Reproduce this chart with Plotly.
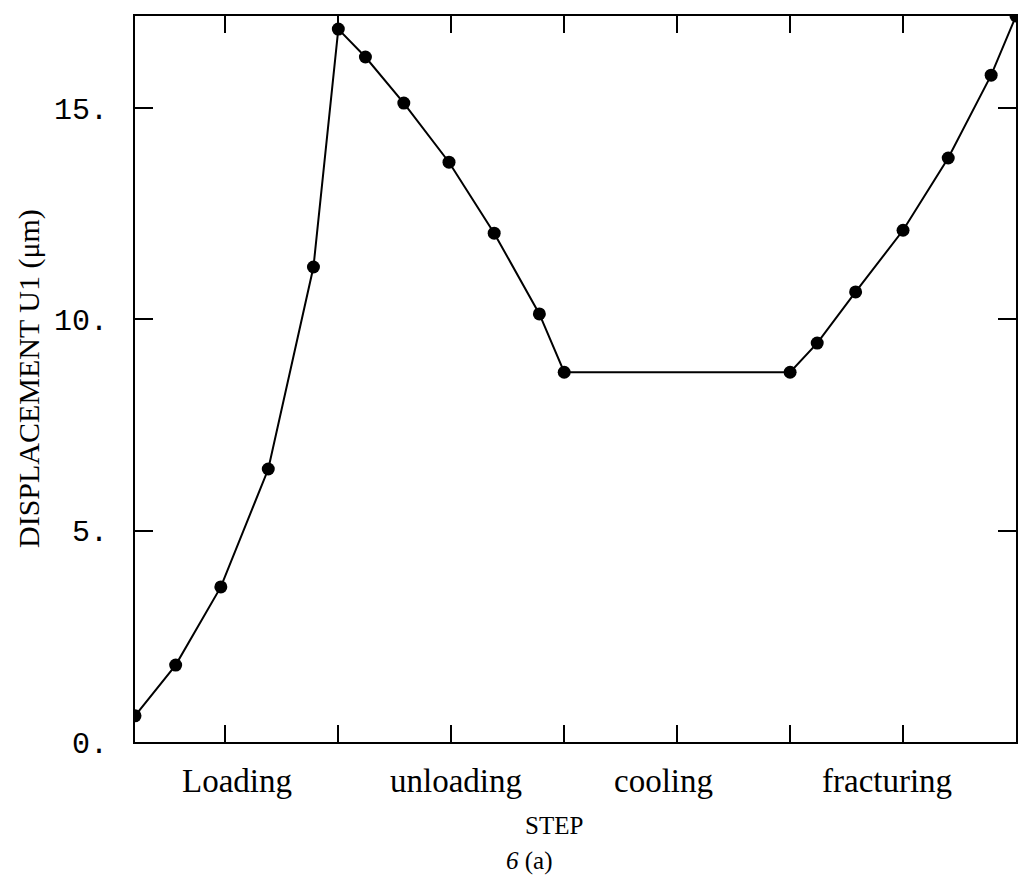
import plotly.graph_objects as go

# ---- data ----
step_time = [0.10, 0.28, 0.48, 0.69, 0.89, 1.00,
             1.12, 1.29, 1.49, 1.69, 1.89, 2.00,
             3.00, 3.12, 3.29, 3.50, 3.70, 3.89, 4.00]
displacement_u1 = [0.62, 1.82, 3.67, 6.46, 11.24, 16.87,
                   16.21, 15.12, 13.72, 12.04, 10.13, 8.75,
                   8.75, 9.44, 10.65, 12.11, 13.82, 15.78, 17.18]

stage_names = ["Loading", "unloading", "cooling", "fracturing"]
stage_label_x = [0.55, 1.52, 2.44, 3.43]

y_tick_vals = [0, 5, 10, 15]
y_tick_text = ["0.", "5.", "10.", "15."]
x_tick_vals = [0.5, 1.0, 1.5, 2.0, 2.5, 3.0, 3.5]

SERIF = "Times New Roman, Liberation Serif, serif"
MONO = "Courier New, Liberation Mono, monospace"

fig = go.Figure()
fig.add_trace(go.Scatter(
    x=step_time, y=displacement_u1,
    mode="lines+markers",
    line=dict(color="black", width=2),
    marker=dict(color="black", size=13),
    showlegend=False,
    cliponaxis=True,
))

fig.update_layout(
    width=1022, height=882,
    margin=dict(l=135, r=4, t=16, b=140),
    paper_bgcolor="white", plot_bgcolor="white",
    xaxis=dict(
        range=[0.1, 4.0], showgrid=False, zeroline=False,
        showline=True, linecolor="black", linewidth=2, mirror="ticks",
        ticks="inside", ticklen=17, tickwidth=2, tickcolor="black",
        tickvals=x_tick_vals, showticklabels=False,
    ),
    yaxis=dict(
        range=[0, 17.18], showgrid=False, zeroline=False,
        showline=True, linecolor="black", linewidth=2, mirror="ticks",
        ticks="inside", ticklen=18, tickwidth=2, tickcolor="black",
        tickvals=y_tick_vals, ticktext=y_tick_text,
        tickfont=dict(family=MONO, size=30, color="black"),
        ticklabelstandoff=19,
    ),
)

annotations = []
for name, xpos in zip(stage_names, stage_label_x):
    annotations.append(dict(
        x=xpos, y=0, xref="x", yref="paper", text=name, showarrow=False,
        yanchor="middle", yshift=-39,
        font=dict(family=SERIF, size=33, color="black"),
    ))
annotations.append(dict(
    x=0, y=0, xref="paper", yref="paper", text="STEP", showarrow=False,
    xanchor="center", yanchor="middle", xshift=554 - 135, yshift=-(825 - 742),
    font=dict(family=SERIF, size=25, color="black"),
))
annotations.append(dict(
    x=0, y=0, xref="paper", yref="paper", text="<i>6</i> (a)", showarrow=False,
    xanchor="center", yanchor="middle", xshift=529 - 135, yshift=-(861 - 742),
    font=dict(family=SERIF, size=25, color="black"),
))
annotations.append(dict(
    x=0, y=0.5, xref="paper", yref="paper", text="DISPLACEMENT U1 (μm)",
    showarrow=False, textangle=-90, xanchor="center", yanchor="middle",
    xshift=29 - 135, yshift=0,
    font=dict(family=SERIF, size=30, color="black"),
))
fig.update_layout(annotations=annotations)

fig.write_html("out.html")
